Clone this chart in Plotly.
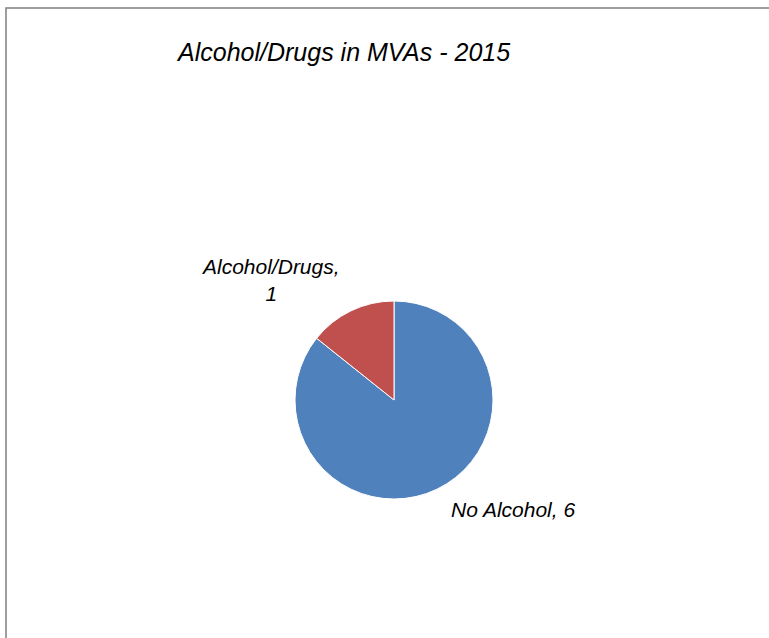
import plotly.graph_objects as go

# Motor vehicle accidents in 2015, split by alcohol/drug involvement
categories = ["No Alcohol", "Alcohol/Drugs"]
counts = [6, 1]
colors = ["#4F81BD", "#C0504D"]
title_text = "Alcohol/Drugs in MVAs - 2015"

W, H = 769, 638
cx, cy, r = 394, 400, 99  # pie centre and radius in pixels (from top-left)

fig = go.Figure(
    go.Pie(
        labels=categories,
        values=counts,
        sort=False,
        direction="clockwise",
        rotation=0,
        marker=dict(colors=colors, line=dict(color="white", width=1)),
        textinfo="none",
        hoverinfo="label+value",
        showlegend=False,
        domain=dict(
            x=[(cx - r) / W, (cx + r) / W],
            y=[(H - cy - r) / H, (H - cy + r) / H],
        ),
    )
)

label_font = dict(family="Liberation Sans, Arial, sans-serif", size=21, color="#000000")

# Data labels placed outside the slices
label_pos = {
    "Alcohol/Drugs": (270, 280, "<br>"),
    "No Alcohol": (513, 510, " "),
}
annotations = []
for name, val in zip(categories, counts):
    x, y, sep = label_pos[name]
    annotations.append(
        dict(
            x=x / W, y=1 - y / H, xref="paper", yref="paper",
            text=f"<i>{name},{sep}{val}</i>",
            showarrow=False, font=label_font, align="center",
            xanchor="center", yanchor="middle",
        )
    )

annotations.append(
    dict(
        x=343 / W, y=1 - 52 / H, xref="paper", yref="paper",
        text=f"<i>{title_text}</i>", showarrow=False,
        font=dict(family="Liberation Sans, Arial, sans-serif", size=25, color="#000000"),
        xanchor="center", yanchor="middle",
    )
)

fig.update_layout(
    width=W, height=H,
    margin=dict(l=0, r=0, t=0, b=0),
    paper_bgcolor="white",
    plot_bgcolor="white",
    annotations=annotations,
    shapes=[
        dict(
            type="rect", xref="paper", yref="paper",
            x0=6 / W, x1=1.05, y0=-0.05, y1=1 - 8 / H,
            line=dict(color="#7F7F7F", width=1.5),
            fillcolor="rgba(0,0,0,0)",
        )
    ],
)

fig.write_html("out.html")
